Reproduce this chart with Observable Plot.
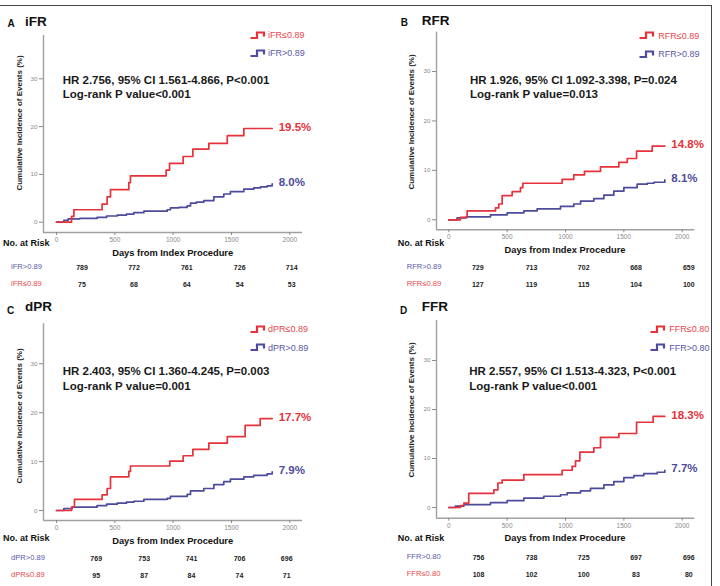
<!DOCTYPE html>
<html><head><meta charset="utf-8">
<script src="https://cdn.jsdelivr.net/npm/d3@7"></script>
<script src="https://cdn.jsdelivr.net/npm/@observablehq/plot@0.6"></script>
<style>
body{margin:0;background:#fff;}
#root{position:relative;width:720px;height:586px;overflow:hidden;font-family:"Liberation Sans",Arial,sans-serif;background:#fff;}
.t{position:absolute;white-space:nowrap;line-height:1;transform:translateY(-50%);}
.frame{position:absolute;left:-5px;top:5px;width:716px;height:700px;border-top:1.5px solid #444;border-right:1.5px solid #444;}
</style></head><body><div id="root"><div class="frame"></div></div>
<script>
const RED = "#e5323b", BLUE = "#4d4b9b";
const RED_T = "#e8474d", BLUE_T = "#5a58a8";

const yTicks = [0, 10, 20, 30];
const xTicks = [0, 500, 1000, 1500, 2000];

// ---- Panel A: iFR ----
const iFR_low = [[0,0],[129,1.2],[149,2.6],[391,3.8],[434,5.3],[463,6.8],[620,8.3],[634,9.7],[940,10.9],[969,12.3],[1086,13.75],[1169,15.3],[1306,16.5],[1464,18.1],[1606,19.6],[1849,19.6]];
const iFR_high = [[0,0],[63,0.4],[100,0.7],[200,0.8],[348,1.0],[430,1.3],[520,1.5],[600,1.7],[663,2.0],[749,2.3],[949,2.6],[977,3.0],[1050,3.1],[1120,3.4],[1149,4.0],[1200,4.2],[1263,4.5],[1349,5.3],[1434,5.9],[1491,6.4],[1606,6.9],[1691,7.2],[1750,7.4],[1806,7.6],[1849,8.0]];
const iFR_endLabels = ["19.5%", "8.0%"];
const iFR_groups = ["iFR≤0.89", "iFR>0.89"];
const iFR_stats = ["HR 2.756, 95% CI 1.561-4.866, P<0.001", "Log-rank P value<0.001"];
const iFR_riskHigh = [789, 772, 761, 726, 714];
const iFR_riskLow = [75, 68, 64, 54, 53];

// ---- Panel B: RFR ----
const RFR_low = [[0,0],[100,0.5],[157,1.8],[400,2.4],[428,3.2],[457,4.9],[543,5.7],[614,6.5],[634,7.4],[971,8.2],[1071,9.1],[1163,9.8],[1300,10.7],[1457,11.6],[1529,12.4],[1609,13.9],[1743,14.9],[1851,14.9]];
const RFR_high = [[0,0],[71,0.4],[150,0.6],[357,1.0],[500,1.4],[643,1.8],[757,2.2],[957,2.7],[1071,3.2],[1129,3.8],[1243,4.3],[1329,5.0],[1414,5.8],[1500,6.5],[1614,7.2],[1700,7.4],[1757,7.6],[1851,8.1]];
const RFR_endLabels = ["14.8%", "8.1%"];
const RFR_groups = ["RFR≤0.89", "RFR>0.89"];
const RFR_stats = ["HR 1.926, 95% CI 1.092-3.398, P=0.024", "Log-rank P value=0.013"];
const RFR_riskHigh = [729, 713, 702, 668, 659];
const RFR_riskLow = [127, 119, 115, 104, 100];

// ---- Panel C: dPR ----
const dPR_low = [[0,0],[129,0.7],[154,2.3],[391,3.2],[434,4.5],[463,6.9],[620,8.0],[634,9.1],[971,10.1],[1086,11.2],[1169,12.5],[1306,13.8],[1464,15.1],[1617,17.4],[1746,18.8],[1849,18.8]];
const dPR_high = [[0,0],[63,0.4],[134,0.7],[348,1.0],[430,1.3],[520,1.5],[600,1.7],[663,1.9],[749,2.3],[949,2.5],[977,2.9],[1120,3.3],[1149,4.0],[1263,4.5],[1349,5.3],[1434,5.9],[1491,6.4],[1606,6.9],[1691,7.2],[1806,7.5],[1849,7.9]];
const dPR_endLabels = ["17.7%", "7.9%"];
const dPR_groups = ["dPR≤0.89", "dPR>0.89"];
const dPR_stats = ["HR 2.403, 95% CI 1.360-4.245, P=0.003", "Log-rank P value=0.001"];
const dPR_riskHigh = [769, 753, 741, 706, 696];
const dPR_riskLow = [95, 87, 84, 74, 71];

// ---- Panel D: FFR ----
const FFR_low = [[0,0],[100,0.4],[129,0.9],[171,2.9],[386,3.6],[421,5.0],[457,5.6],[643,6.7],[971,7.6],[1057,8.4],[1086,9.5],[1123,11.3],[1243,12.2],[1300,14.3],[1457,15.1],[1609,17.4],[1751,18.6],[1851,18.6]];
const FFR_high = [[0,0],[57,0.3],[129,0.6],[357,1.0],[500,1.4],[643,1.9],[814,2.3],[957,2.6],[1014,3.0],[1129,3.4],[1214,3.9],[1329,4.6],[1414,5.3],[1500,6.1],[1586,6.5],[1671,6.9],[1786,7.2],[1851,7.6]];
const FFR_endLabels = ["18.3%", "7.7%"];
const FFR_groups = ["FFR≤0.80", "FFR>0.80"];
const FFR_stats = ["HR 2.557, 95% CI 1.513-4.323, P<0.001", "Log-rank P value<0.001"];
const FFR_riskHigh = [756, 738, 725, 697, 696];
const FFR_riskLow = [108, 102, 100, 83, 80];

const letters = ["A", "B", "C", "D"];
const titles = ["iFR", "RFR", "dPR", "FFR"];
const yTitle = "Cumulative Incidence of Events (%)";
const xTitle = "Days from Index Procedure";
const riskHead = "No. at Risk";

// ---- layout ----
const layouts = [
  {svg:{left:0,top:0,w:360,h:300,ml:43,mt:35,mr:58,mb:68,xd:[-111.4,2108.9],yd:[-2.155,39.06]},
   letter:[7.5,24], title:[25,21.7], legend:{sx:250,tx:268,y:[35.3,53.3]}, stats:{x:62.7,y:[81,95]}, ytitle:[20,122.5],
   risk:{lx:11, head:[3,242.7], days:[172.7,253.7], rows:[266.7,284], cols:[82,134,186.8,239.7,291.7]}},
  {svg:{left:360,top:0,w:360,h:300,ml:76,mt:31.7,mr:25.7,mb:70.7,xd:[-105.4,2108],yd:[-2.02,37.95]},
   letter:[400.7,23.3], title:[421.7,21], legend:{sx:639.3,tx:658.3,y:[35.7,54.3]}, stats:{x:470,y:[81,95]}, ytitle:[411.7,122],
   risk:{lx:406.7, head:[397.7,242.7], days:[565,250.7], rows:[266.7,284], cols:[477.8,531.5,583.7,636,688.8]}},
  {svg:{left:0,top:290,w:360,h:300,ml:43,mt:33.3,mr:58,mb:70,xd:[-111.4,2108.9],yd:[-2.04,38.18]},
   letter:[7,311], title:[25,306.7], legend:{sx:250,tx:268,y:[329,347.7]}, stats:{x:62.7,y:[372,387]}, ytitle:[20,415.8],
   risk:{lx:11, head:[3,538.3], days:[172.7,541.7], rows:[557.7,575], cols:[96.2,144.2,191.5,239.5,286.7]}},
  {svg:{left:360,top:290,w:360,h:300,ml:76,mt:30,mr:25.7,mb:72.3,xd:[-105.4,2108],yd:[-2.18,38.16]},
   letter:[400,310.8], title:[421.7,307], legend:{sx:650,tx:669.3,y:[329.3,347.7]}, stats:{x:469.3,y:[371.7,386.7]}, ytitle:[411.7,409.5],
   risk:{lx:406.7, head:[397.7,538.3], days:[565,539], rows:[556.7,574.3], cols:[478.5,531.5,583.7,636,688.8]}}
];

const panels = [
  {low:iFR_low, high:iFR_high, ends:iFR_endLabels, groups:iFR_groups, stats:iFR_stats, rh:iFR_riskHigh, rl:iFR_riskLow},
  {low:RFR_low, high:RFR_high, ends:RFR_endLabels, groups:RFR_groups, stats:RFR_stats, rh:RFR_riskHigh, rl:RFR_riskLow},
  {low:dPR_low, high:dPR_high, ends:dPR_endLabels, groups:dPR_groups, stats:dPR_stats, rh:dPR_riskHigh, rl:dPR_riskLow},
  {low:FFR_low, high:FFR_high, ends:FFR_endLabels, groups:FFR_groups, stats:FFR_stats, rh:FFR_riskHigh, rl:FFR_riskLow}
];

const root = document.getElementById("root");
const FONT = '"Liberation Sans", Arial, sans-serif';

function addText(x, y, txt, st, anchor) {
  const el = document.createElement("div");
  el.className = "t";
  el.textContent = txt;
  el.style.left = x + "px";
  el.style.top = y + "px";
  if (anchor === "middle") el.style.transform = "translate(-50%,-50%)";
  Object.assign(el.style, st || {});
  root.appendChild(el);
  return el;
}
function addSym(x, y, color) {
  const ns = "http://www.w3.org/2000/svg";
  const s = document.createElementNS(ns, "svg");
  s.setAttribute("width", 16); s.setAttribute("height", 9);
  s.style.position = "absolute"; s.style.left = x + "px"; s.style.top = (y - 4.5) + "px";
  const p = document.createElementNS(ns, "path");
  p.setAttribute("d", "M0.5,7 H7 V1.5 H14 V5.5");
  p.setAttribute("fill", "none"); p.setAttribute("stroke", color); p.setAttribute("stroke-width", "2.2");
  s.appendChild(p); root.appendChild(s);
}

panels.forEach((P, i) => {
  const L = layouts[i], g = L.svg;
  const low = P.low.map(([d, v]) => ({d, v}));
  const high = P.high.map(([d, v]) => ({d, v}));
  const lastLow = low[low.length - 1], lastHigh = high[high.length - 1];
  const ends = [
    {d: lastLow.d, v: lastLow.v, label: P.ends[0], c: RED},
    {d: lastHigh.d, v: lastHigh.v, label: P.ends[1], c: BLUE}
  ];
  const chart = Plot.plot({
    width: g.w, height: g.h,
    marginLeft: g.ml, marginTop: g.mt, marginRight: g.mr, marginBottom: g.mb,
    style: {background: "transparent", fontFamily: FONT, overflow: "visible"},
    x: {domain: g.xd, axis: null},
    y: {domain: g.yd, axis: null},
    marks: [
      Plot.ruleX([g.xd[0]], {stroke: "#a0a0a0", strokeWidth: 1.4}),
      Plot.ruleY([g.yd[0]], {stroke: "#a0a0a0", strokeWidth: 1.4}),
      Plot.axisY({ticks: yTicks, tickSize: 4, tickPadding: 2, fontSize: 6.2, color: "#8a8a8a", label: null, tickFormat: d3.format("d")}),
      Plot.axisX({ticks: xTicks, tickSize: 3, tickPadding: 2, fontSize: 6.5, color: "#8a8a8a", label: null, tickFormat: d3.format("d")}),
      Plot.line(high, {x: "d", y: "v", curve: "step-after", stroke: BLUE, strokeWidth: 1.7}),
      Plot.line(low, {x: "d", y: "v", curve: "step-after", stroke: RED, strokeWidth: 1.7}),
      Plot.text(ends, {x: "d", y: "v", text: "label", fill: "c", dx: 6.5, dy: -1.5, textAnchor: "start", fontWeight: "bold", fontSize: 11.5})
    ]
  });
  chart.style.position = "absolute";
  chart.style.left = g.left + "px";
  chart.style.top = g.top + "px";
  root.appendChild(chart);

  addText(L.letter[0], L.letter[1], letters[i], {fontSize: "10px", fontWeight: "bold", color: "#111"});
  addText(L.title[0], L.title[1], titles[i], {fontSize: "13.5px", fontWeight: "bold", color: "#111"});
  addSym(L.legend.sx, L.legend.y[0], RED);
  addSym(L.legend.sx, L.legend.y[1], BLUE);
  addText(L.legend.tx, L.legend.y[0], P.groups[0], {fontSize: "9px", color: RED_T});
  addText(L.legend.tx, L.legend.y[1], P.groups[1], {fontSize: "9px", color: BLUE_T});
  addText(L.stats.x, L.stats.y[0], P.stats[0], {fontSize: "11.5px", fontWeight: "bold", color: "#1a1a1a"});
  addText(L.stats.x, L.stats.y[1], P.stats[1], {fontSize: "11.5px", fontWeight: "bold", color: "#1a1a1a"});
  addText(L.ytitle[0], L.ytitle[1], yTitle, {fontSize: "8px", fontWeight: "bold", color: "#222", transform: "translate(-50%,-50%) rotate(-90deg)"});
  const R = L.risk;
  addText(R.head[0], R.head[1], riskHead, {fontSize: "9px", fontWeight: "bold", color: "#111"});
  addText(R.days[0], R.days[1], xTitle, {fontSize: "9.3px", fontWeight: "bold", color: "#111"}, "middle");
  addText(R.lx, R.rows[0], P.groups[1], {fontSize: "7.6px", color: BLUE_T});
  addText(R.lx, R.rows[1], P.groups[0], {fontSize: "7.6px", color: RED_T});
  R.cols.forEach((cx, k) => {
    addText(cx, R.rows[0], String(P.rh[k]), {fontSize: "7px", fontWeight: "bold", color: "#222"}, "middle");
    addText(cx, R.rows[1], String(P.rl[k]), {fontSize: "7px", fontWeight: "bold", color: "#222"}, "middle");
  });
});
</script></body></html>
